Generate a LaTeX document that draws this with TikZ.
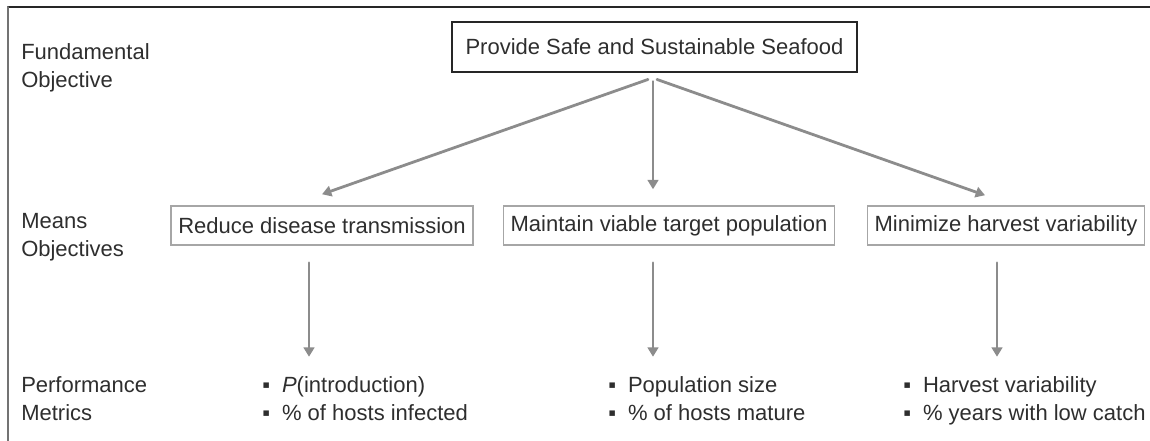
\documentclass[tikz,border=0pt]{standalone}
\usepackage{fontspec}
\setmainfont{Liberation Sans}
\usetikzlibrary{arrows.meta}

\begin{document}
\begin{tikzpicture}[
  x=0.75pt, y=-0.75pt,
  line cap=round,
  font=\fontsize{16.5}{21}\selectfont,
  txt/.style={text=black!82, inner sep=0pt},
  rowlabel/.style={txt, align=left, anchor=north west},
  metric/.style={txt, align=left, anchor=north west},
  fundbox/.style={txt, draw=black!85, line width=2.2pt,
    minimum width=303.75pt, minimum height=37.5pt},
  meansbox/.style={txt, draw=black!35, line width=1.1pt,
    inner xsep=5.4pt, minimum height=29.25pt},
  arr/.style={draw=black!45, line width=2.1pt,
    -{Triangle[length=7pt,width=8pt]}}
]
  \useasboundingbox (0,0) rectangle (1150,441);

  % Rahmen
  \draw[black!85, line width=1.5pt] (8,7) -- (1150,7);
  \draw[black!55, line width=1.5pt] (8,7) -- (8,441);

  % Ebenen
  \node[rowlabel] (lfund) at (21,43) {Fundamental\\Objective};
  \node[rowlabel] (lmeans) at (21,213) {Means\\Objectives};
  \node[rowlabel] (lperf) at (21,376) {Performance\\Metrics};

  % Ziele
  \node[fundbox] (fund) at (654.5,47) {Provide Safe and Sustainable Seafood};
  \node[meansbox] (disease) at (322,225.5) {Reduce disease transmission};
  \node[meansbox] (viable) at (669,225.5) {Maintain viable target population};
  \node[meansbox] (harvest) at (1006,225.5) {Minimize harvest variability};

  % Kennzahlen
  \node[metric] (mdisease) at (262,376)
    {▪\hspace{9pt}\textit{P}(introduction)\\▪\hspace{9pt}\% of hosts infected};
  \node[metric] (mviable) at (608,376)
    {▪\hspace{9pt}Population size\\▪\hspace{9pt}\% of hosts mature};
  \node[metric] (mharvest) at (903,376)
    {▪\hspace{9pt}Harvest variability\\▪\hspace{9pt}\% years with low catch};

  % Pfeile nach unten
  \draw[arr] ([shift={(-6.5,6)}]fund.south) -- ([shift={(0,-11)}]disease.north);
  \draw[arr] ([shift={(-1.5,8)}]fund.south) -- ([shift={(-16,-16)}]viable.north);
  \draw[arr] ([shift={(2.5,6)}]fund.south) -- ([shift={(-21,-10)}]harvest.north);

  \draw[arr] ([shift={(-13,17)}]disease.south) -- ([shift={(-13,111)}]disease.south);
  \draw[arr] ([shift={(-16,17)}]viable.south) -- ([shift={(-16,111)}]viable.south);
  \draw[arr] ([shift={(-9,17)}]harvest.south) -- ([shift={(-9,111)}]harvest.south);
\end{tikzpicture}
\end{document}
